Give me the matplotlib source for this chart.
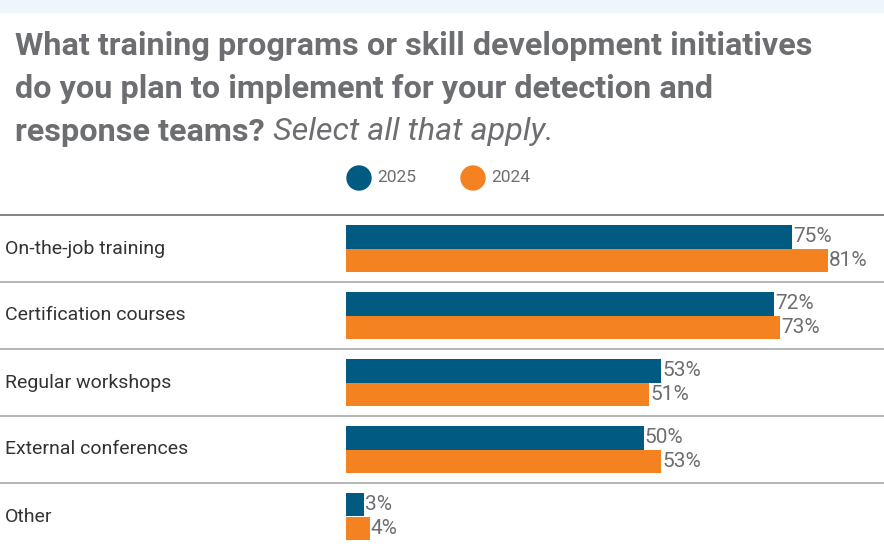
import matplotlib
matplotlib.use("Agg")
import matplotlib.pyplot as plt
import matplotlib.transforms as mtransforms
from matplotlib.patches import Rectangle, Circle

# DATA
categorias = ["On-the-job training", "Certification courses", "Regular workshops",
              "External conferences", "Other"]
valores_2025 = [75, 72, 53, 50, 3]
valores_2024 = [81, 73, 51, 53, 4]
series = ["2025", "2024"]

# COLORES
AZUL    = "#005a82"
NARANJA = "#f58220"
GRIS    = "#6d6e71"
LINEA   = "#a7a9ac"

plt.rcParams["font.family"] = ["Roboto", "DejaVu Sans"]

W, H = 884, 550
fig = plt.figure(figsize=(W / 100, H / 100), dpi=100)
fig.patch.set_facecolor("white")

# banda superior
fig.add_artist(Rectangle((0, 1 - 12 / H), 1, 12 / H, transform=fig.transFigure,
                         color="#eef6fb", zorder=0))

# TITULO
x0 = 15 / W
TAM = 23.3
fig.text(x0, 1 - 46 / H, "What training programs or skill development initiatives",
         fontsize=TAM, fontweight="bold", color=GRIS, va="center")
fig.text(x0, 1 - 89 / H, "do you plan to implement for your detection and",
         fontsize=TAM, fontweight="bold", color=GRIS, va="center")
t1 = fig.text(x0, 1 - 132 / H, "response teams? ",
              fontsize=TAM, fontweight="bold", color=GRIS, va="center")
fig.canvas.draw()
bb = t1.get_window_extent(fig.canvas.get_renderer())
fig.text(bb.x1 / W, 1 - 132 / H, "Select all that apply.",
         fontsize=TAM, style="italic", color=GRIS, va="center")

# LEYENDA
for nombre, color, xc in zip(series, [AZUL, NARANJA], [359, 473]):
    fig.add_artist(Circle((xc, H - 178), 12, transform=None, color=color))
    fig.text((xc + 18) / W, 1 - 178 / H, nombre, fontsize=12.5, color=GRIS, va="center")

# EJES DE BARRAS
x_izq, y_top = 346, 215
escala = 5.95  # px por punto porcentual
ax = fig.add_axes([x_izq / W, 0, (W - x_izq) / W, 1 - y_top / H])
ax.set_xlim(0, (W - x_izq) / escala)
n = len(categorias)
ax.set_ylim(n, 0)
ax.axis("off")

alto = 0.358
pos = [i + 0.5 for i in range(n)]
ax.barh([p - alto / 2 for p in pos], valores_2025, height=alto, color=AZUL)
ax.barh([p + alto / 2 for p in pos], valores_2024, height=alto, color=NARANJA)

for p, v1, v2 in zip(pos, valores_2025, valores_2024):
    ax.text(v1 + 0.2, p - alto / 2, f"{v1}%", va="center", ha="left",
            fontsize=15, color=GRIS, clip_on=False)
    ax.text(v2 + 0.2, p + alto / 2, f"{v2}%", va="center", ha="left",
            fontsize=15, color=GRIS, clip_on=False)

# separadores y etiquetas a todo lo ancho
trans = mtransforms.blended_transform_factory(fig.transFigure, ax.transData)
for i in range(n):
    color = "#6d6e71" if i == 0 else LINEA
    ax.plot([0, 1], [i, i], transform=trans, color=color, lw=1.2, clip_on=False)
    ax.text(5 / W, pos[i], categorias[i], transform=trans, va="center", ha="left",
            fontsize=14, color="#333333")

fig.savefig("out.png", dpi=100)
